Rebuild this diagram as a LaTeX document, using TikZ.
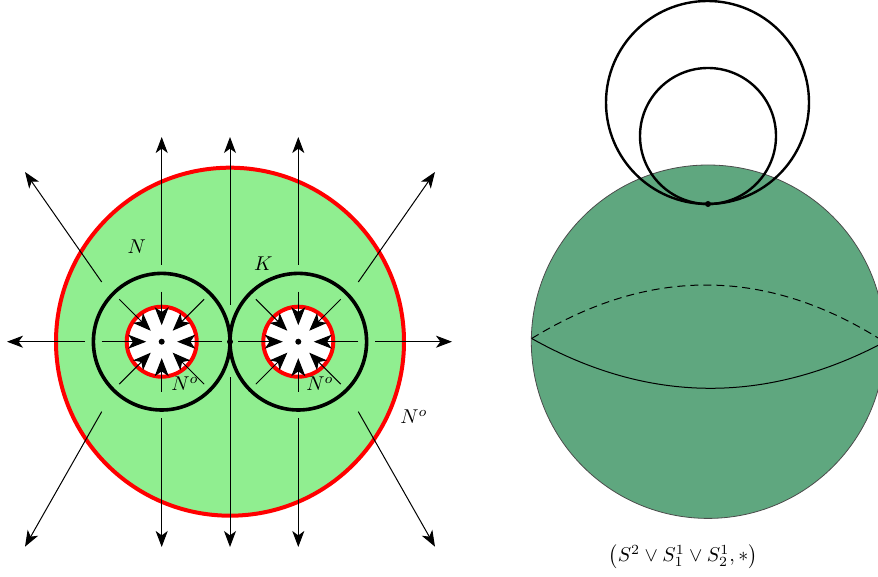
\documentclass[tikz,border=0pt]{standalone}
\usepackage{amsmath}
\usepackage{amssymb}
\usetikzlibrary{arrows.meta}
\definecolor{diskgreen}{RGB}{144,238,144}
\definecolor{spheregreen}{RGB}{95,167,127}

\begin{document}
\begin{tikzpicture}[x=0.5pt,y=-0.5pt,
    outflow/.style={line width=0.5pt,-{Stealth[length=8pt,width=6pt,inset=2.2pt]}},
    inflow/.style={line width=0.5pt,-{Stealth[length=9pt,width=7pt,inset=2.4pt]}}]
    \useasboundingbox (0,0) rectangle (878,577);
    \clip (0,0) rectangle (878,577);

    \coordinate (o) at (230,341.7);
    \coordinate (cl) at (161.7,341.7);
    \coordinate (cr) at (298.3,341.7);

    % the disc and the two holes
    \draw[line width=2pt,red,fill=diskgreen] (o) circle (174);
    \draw[line width=1.8pt] (cl) circle (68.3);
    \draw[line width=1.8pt] (cr) circle (68.3);
    \draw[line width=2pt,red,fill=white] (cl) circle (35);
    \draw[line width=2pt,red,fill=white] (cr) circle (35);

    % flow out of the disc
    \foreach \x in {161.7,298.3} {
        \draw[outflow] (\x,265) -- (\x,137);
        \draw[outflow] (\x,418) -- (\x,547);
    }
    \draw[outflow] (230,305) -- (230,137);
    \draw[outflow] (230,377) -- (230,547);
    \draw[outflow] (85,341.7) -- (7,341.7);
    \draw[outflow] (375,341.7) -- (452,341.7);
    \draw[outflow] (101.7,282) -- (25,172);
    \draw[outflow] (101.7,411.7) -- (25,546.7);
    \draw[outflow] (358.3,282) -- (435,172);
    \draw[outflow] (358.3,411.7) -- (435,546.7);

    % flow into the holes
    \foreach \c in {cl,cr} {
        \foreach \a in {0,45,135,180,225,315} {
            \draw[inflow] ([shift={(\a:60)}]\c) -- ([shift={(\a:15.5)}]\c);
        }
        \foreach \a in {90,270} {
            \draw[inflow] ([shift={(\a:50)}]\c) -- ([shift={(\a:16.5)}]\c);
        }
    }

    \fill (cl) circle (3);
    \fill (cr) circle (3);
    \fill (o) circle (3);

    \node (lN) at (136.7,246.7) {$N$};
    \node (lK) at (263.3,264) {$K$};
    \node (lNl) at (185,383.5) {$N^o$};
    \node (lNr) at (320,383.5) {$N^o$};
    \node (lNo) at (414,416.7) {$N^o$};

    % the sphere with two circles
    \coordinate (s) at (708,341.7);
    \coordinate (eqL) at (531.7,338.5);
    \coordinate (eqR) at (884.5,342);
    \coordinate (p) at (708,204);

    \draw[line width=0.4pt,black!70,fill=spheregreen] (s) circle (176.7);
    \draw[line width=0.5pt] (eqL) .. controls (649,404.3) and (767,404.3) .. (eqR);
    \draw[line width=0.5pt,dash pattern=on 4pt off 2.5pt] (eqL) .. controls (649,266.6) and (767,266.6) .. (eqR);

    \draw[line width=1.2pt] (707.5,102.5) circle (101.5);
    \draw[line width=1.2pt] (708,136) circle (68);
    \fill (p) circle (3);

    \node (lS) at (683,556.7) {$\left(S^2\vee S^1_1\vee S^1_2,*\right)$};
\end{tikzpicture}
\end{document}
